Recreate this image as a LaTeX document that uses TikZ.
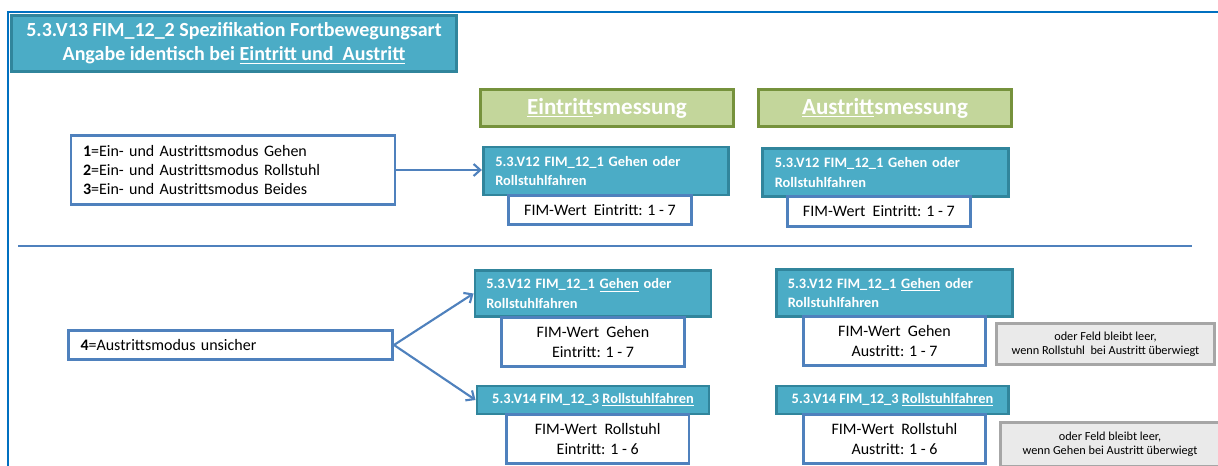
\documentclass[tikz,border=0pt]{standalone}
\usepackage{fontspec}
\setmainfont{Carlito}
\usetikzlibrary{arrows.meta, positioning}
\definecolor{myframe}{RGB}{0,112,192}
\definecolor{myblue}{RGB}{79,129,189}
\definecolor{myteal}{RGB}{75,172,198}
\definecolor{tealdark}{RGB}{49,133,156}
\definecolor{mygreen}{RGB}{195,214,155}
\definecolor{greendark}{RGB}{118,146,60}
\definecolor{mygrey}{RGB}{234,234,234}
\definecolor{greydark}{RGB}{166,166,166}
\tikzset{
  titlebox/.style={rectangle, draw=tealdark, fill=myteal, text=white,
    minimum width=334pt, minimum height=42pt, align=center,
    font=\fontsize{15}{18}\selectfont\bfseries, line width=2.2pt},
  headbox/.style={rectangle, draw=greendark, fill=mygreen, text=white,
    minimum width=190pt, minimum height=28pt, align=center,
    font=\fontsize{17.3}{20}\selectfont\bfseries, line width=2.2pt},
  varbox/.style={rectangle, draw=tealdark, fill=myteal, text=white,
    inner xsep=8pt, align=left, font=\fontsize{10.8}{14.5}\selectfont\bfseries,
    line width=2.2pt},
  valbox/.style={rectangle, draw=myblue, fill=white,
    minimum width=137pt, align=center,
    font=\fontsize{12}{14.8}\selectfont, line width=2.2pt},
  codebox/.style={rectangle, draw=myblue, fill=white,
    minimum width=243pt, text width=225pt, align=left,
    font=\fontsize{12}{14.6}\selectfont, line width=2.2pt},
  notebox/.style={rectangle, draw=greydark, fill=mygrey,
    minimum width=164pt, align=center,
    font=\fontsize{9.2}{10.5}\selectfont, line width=2.2pt},
  flowarrow/.style={-{Straight Barb[length=5pt, width=9pt]}, line width=1.6pt, color=myblue},
  rule/.style={line width=1.6pt, color=myblue}
}
\begin{document}
\begin{tikzpicture}[x=0.75pt, y=-0.75pt, >=Stealth]
  \useasboundingbox (0,0) rectangle (1218,466);

  % Frame
  \draw[line width=1.8pt, color=myframe] (1218,12) -- (8,12) -- (8,466);

  % Title
  \node[titlebox] (title) at (234,43.5)
    {5.3.V13 FIM\_12\_2 Spezifikation Fortbewegungsart\\
     Angabe identisch bei \underline{Eintritt und\ \ Austritt}};

  % Column headers
  \node[headbox] (hin) at (607,108) {\underline{Eintritt}smessung};
  \node[headbox] (hout) at (885,108) {\underline{Austritt}smessung};

  % Upper part: codes 1-3
  \node[codebox, minimum height=52pt] (codes) at (233,170)
    {\textbf{1}=Ein- und Austrittsmodus Gehen\\
     \textbf{2}=Ein- und Austrittsmodus Rollstuhl\\
     \textbf{3}=Ein- und Austrittsmodus Beides};

  \node[varbox, minimum width=184pt, minimum height=36pt, text width=166pt] (v1in) at (606,171)
    {5.3.V12 FIM\_12\_1 Gehen oder\\Rollstuhlfahren};
  \node[varbox, minimum width=184pt, minimum height=36pt, text width=166pt] (v1out) at (885.5,172.5)
    {5.3.V12 FIM\_12\_1 Gehen oder\\Rollstuhlfahren};
  \node[valbox, minimum height=22pt, below=-2pt of v1in.south, xshift=-4.5pt] (w1in)
    {FIM-Wert\ \ Eintritt: 1 - 7};
  \node[valbox, minimum height=22pt, below=-2pt of v1out.south, xshift=-5pt] (w1out)
    {FIM-Wert\ \ Eintritt: 1 - 7};

  \draw[flowarrow] (codes.east) -- (codes.east -| v1in.west);

  % Separator
  \draw[rule] (18,246) -- (1192,246);

  % Lower part: code 4
  \node[codebox, minimum height=22pt] (unsure) at (230.5,345)
    {\textbf{4}=Austrittsmodus unsicher};

  \node[varbox, minimum width=177pt, minimum height=35pt, text width=160pt] (gin) at (593,293.5)
    {5.3.V12 FIM\_12\_1 \underline{Gehen} oder\\Rollstuhlfahren};
  \node[varbox, minimum width=177pt, minimum height=35pt, text width=160pt] (gout) at (894.5,293)
    {5.3.V12 FIM\_12\_1 \underline{Gehen} oder\\Rollstuhlfahren};
  \node[valbox, minimum height=37pt, below=-2pt of gin.south] (wgin)
    {FIM-Wert\ \ Gehen\\Eintritt: 1 - 7};
  \node[valbox, minimum height=37pt, below=-2pt of gout.south] (wgout)
    {FIM-Wert\ \ Gehen\\Austritt: 1 - 7};

  \node[varbox, minimum width=174pt, minimum height=21pt] (rin) at (593,400)
    {5.3.V14 FIM\_12\_3 \underline{Rollstuhlfahren}};
  \node[varbox, minimum width=174pt, minimum height=21pt] (rout) at (892.5,400)
    {5.3.V14 FIM\_12\_3 \underline{Rollstuhlfahren}};
  \node[valbox, minimum height=37pt, below=-2pt of rin.south, xshift=3.5pt] (wrin)
    {FIM-Wert\ \ Rollstuhl\\Eintritt: 1 - 6};
  \node[valbox, minimum height=37pt, below=-2pt of rout.south, xshift=1.5pt] (wrout)
    {FIM-Wert\ \ Rollstuhl\\Austritt: 1 - 6};

  % Notes
  \node[notebox, minimum height=31pt] (ngehen) at (1105.5,344)
    {oder Feld bleibt leer,\\wenn Rollstuhl\ \ bei Austritt überwiegt};
  \node[notebox, minimum height=33pt] (nroll) at (1110,444.5)
    {oder Feld bleibt leer,\\wenn Gehen bei Austritt überwiegt};

  \draw[flowarrow] (unsure.east) -- (gin.west);
  \draw[flowarrow] (unsure.east) -- (rin.west);
\end{tikzpicture}
\end{document}
